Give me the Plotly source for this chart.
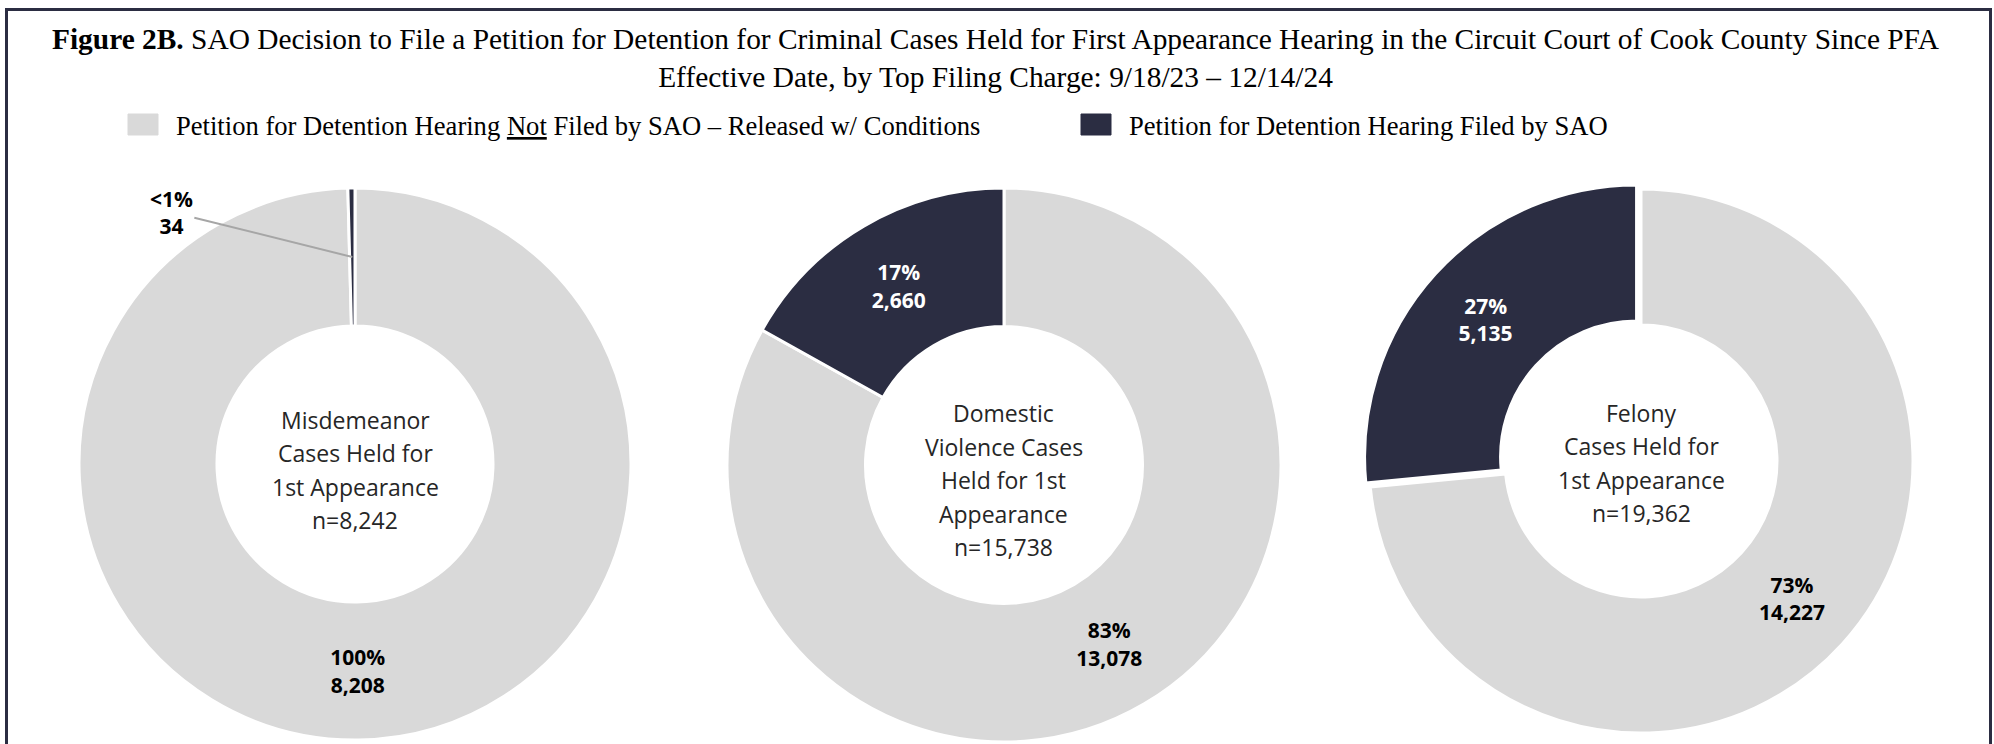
import math
import plotly.graph_objects as go

# canvas size in px
W, H = 1994, 744

DARK = '#2b2d42'
LIGHT = '#d9d9d9'
SERIF = 'Times New Roman, Liberation Serif, serif'
SANS = 'Open Sans, Noto Sans, sans-serif'

# data
slice_names = ['Petition for Detention Hearing Not Filed by SAO – Released w/ Conditions',
               'Petition for Detention Hearing Filed by SAO']
groups = ['Misdemeanor', 'Domestic Violence', 'Felony']
not_filed = [8208, 13078, 14227]
filed = [34, 2660, 5135]
center_titles = [['Misdemeanor', 'Cases Held for', '1st Appearance'],
                 ['Domestic', 'Violence Cases', 'Held for 1st', 'Appearance'],
                 ['Felony', 'Cases Held for', '1st Appearance']]

# donut placement (center x, center y, outer radius in px), explode of the dark slice,
# and vertical offset of the text block inside the hole
centers = [(355, 464, 276), (1004, 465, 277), (1641, 461, 272)]
pulls = [0, 0, 0.022]
text_dy = [6, 15, 2]
HOLE = 0.5
LINE_GAP = 33.5


def px_domain(cx, cy, r):
    return dict(x=[(cx - r) / W, (cx + r) / W],
                y=[1 - (cy + r) / H, 1 - (cy - r) / H])


fig = go.Figure()

for i, g in enumerate(groups):
    cx, cy, r = centers[i]
    total = filed[i] + not_filed[i]
    small = filed[i] / total < 0.01
    # light slice first + counterclockwise puts the dark slice left of 12 o'clock
    fig.add_trace(go.Pie(
        labels=slice_names,
        values=[not_filed[i], filed[i]],
        name=g,
        sort=False,
        direction='counterclockwise',
        rotation=0,
        hole=HOLE,
        pull=[0, pulls[i]],
        domain=px_domain(cx, cy, r * (1 + pulls[i])),
        marker=dict(colors=[LIGHT, DARK], line=dict(color='white', width=3)),
        texttemplate='<b>%{percent:.0%}<br>%{value:,}</b>',
        textposition=['inside', 'none' if small else 'inside'],
        insidetextorientation='horizontal',
        textfont=dict(family=SANS, size=21, color=['black', 'white']),
        showlegend=False,
        hovertemplate='%{label}<br>%{value:,} (%{percent})<extra>' + g + '</extra>',
    ))

    # text in the hole, one line at a time so the line gap matches
    lines = center_titles[i] + [f'n={total:,}']
    y_mid = cy + text_dy[i]
    for k, line in enumerate(lines):
        ly = y_mid + (k - (len(lines) - 1) / 2) * LINE_GAP
        fig.add_annotation(x=cx / W, y=1 - ly / H, xref='paper', yref='paper',
                           xanchor='center', yanchor='middle', text=line, showarrow=False,
                           font=dict(family=SANS, size=23, color='#262626'))

# callout for the tiny misdemeanor slice, pointing at the middle of the ring
cx, cy, r = centers[0]
ang = math.pi * filed[0] / (filed[0] + not_filed[0])
rm = r * (1 + HOLE) / 2
tip_x, tip_y = cx - rm * math.sin(ang), cy - rm * math.cos(ang)
fig.add_annotation(
    x=tip_x / W, y=1 - tip_y / H, xref='paper', yref='paper',
    text=f'<b>&lt;1%<br>{filed[0]}</b>',
    showarrow=True, arrowhead=0, arrowwidth=2, arrowcolor='#a6a6a6',
    ax=-181, ay=-45,
    font=dict(family=SANS, size=21, color='black'),
)

# title
fig.add_annotation(
    x=0.4995, y=1 - 58 / H, xref='paper', yref='paper', xanchor='center', yanchor='middle',
    text='<b>Figure 2B.</b> SAO Decision to File a Petition for Detention for Criminal Cases Held '
         'for First Appearance Hearing in the Circuit Court of Cook County Since PFA<br>'
         'Effective Date, by Top Filing Charge: 9/18/23 – 12/14/24',
    showarrow=False, align='center',
    font=dict(family=SERIF, size=29.4, color='black'),
)

# legend drawn by hand (boxes + labels)
legend_items = [
    (128, 'Petition for Detention Hearing <u>Not</u> Filed by SAO – Released w/ Conditions', LIGHT),
    (1081, 'Petition for Detention Hearing Filed by SAO', DARK),
]
for x0, txt, col in legend_items:
    fig.add_shape(type='rect', xref='paper', yref='paper',
                  x0=x0 / W, x1=(x0 + 30) / W, y0=1 - 135 / H, y1=1 - 114 / H,
                  fillcolor=col, line=dict(color=col, width=1))
    fig.add_annotation(x=(x0 + 46) / W, y=1 - 126 / H, xref='paper', yref='paper',
                       xanchor='left', yanchor='middle', text=txt, showarrow=False,
                       font=dict(family=SERIF, size=26.6, color='black'))

# outer frame (bottom edge falls outside the picture)
fig.add_shape(type='rect', xref='paper', yref='paper',
              x0=6.5 / W, x1=1990.5 / W, y0=-0.05, y1=1 - 9.5 / H,
              line=dict(color=DARK, width=3), fillcolor='rgba(0,0,0,0)')

fig.update_layout(
    width=W, height=H,
    margin=dict(l=0, r=0, t=0, b=0),
    paper_bgcolor='white',
    plot_bgcolor='white',
)

fig.write_html("out.html", config={'displayModeBar': False},
               post_script="document.body.style.margin='0';")
